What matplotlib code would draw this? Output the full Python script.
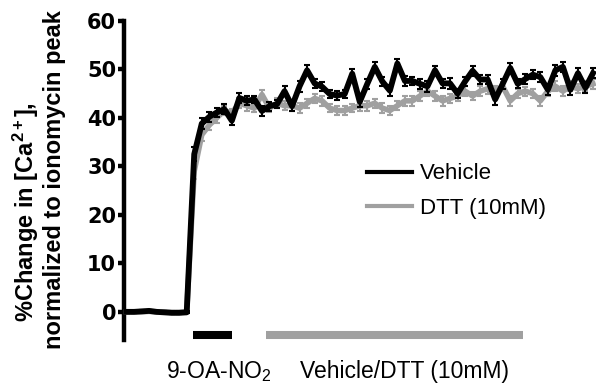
import numpy as np
import matplotlib
matplotlib.use("Agg")
import matplotlib.pyplot as plt
from matplotlib.lines import Line2D

plt.rcParams['font.family'] = ['Liberation Sans', 'DejaVu Sans']
plt.rcParams['mathtext.fontset'] = 'custom'
plt.rcParams['mathtext.rm'] = 'Liberation Sans'
plt.rcParams['mathtext.it'] = 'Liberation Sans:italic'
plt.rcParams['mathtext.bf'] = 'Liberation Sans:bold'

# ---- data ----
vehicle_mean = [0.0, 0.0, 0.1, 0.2, 0.0, -0.1, -0.2, -0.2, -0.1,
                32.5, 38.8, 40.2, 41.1, 41.8, 39.4, 44.1, 43.5, 43.8, 41.4,
                42.4, 42.8, 45.5, 42.4, 46.5, 49.8, 47.1, 46.4, 44.9, 44.6,
                44.9, 49.1, 43.3, 47.0, 50.5, 47.5, 45.6, 51.2, 47.6, 47.6,
                47.0, 46.5, 49.8, 47.1, 47.1, 45.0, 47.5, 49.7, 47.9, 47.9,
                43.8, 47.0, 50.3, 47.0, 48.0, 48.9, 48.4, 45.8, 49.8, 50.5,
                45.8, 49.2, 46.2, 49.2]
vehicle_sem = [0.2, 0.2, 0.2, 0.2, 0.2, 0.2, 0.2, 0.2, 0.2,
               1.5, 1.2, 1.0, 0.9, 1.0, 0.9, 1.0, 0.9, 0.8, 1.0,
               0.9, 0.8, 1.0, 1.0, 1.1, 1.0, 1.0, 0.9, 0.9, 1.0,
               0.9, 1.0, 1.1, 1.0, 1.0, 1.0, 1.1, 1.0, 1.0, 0.9,
               1.0, 1.1, 0.9, 1.0, 1.1, 1.0, 0.9, 1.0, 1.0, 1.0,
               1.1, 1.0, 1.0, 0.9, 1.0, 1.0, 1.1, 1.0, 1.1, 1.0,
               1.1, 1.0, 1.1, 1.0]
dtt_mean = [0.0, 0.0, 0.0, 0.1, 0.0, 0.0, -0.1, -0.1, 0.0,
            29.0, 36.5, 38.5, 40.0, 41.5, 41.0, 43.0, 42.5, 42.0, 44.8,
            42.0, 43.0, 42.5, 42.5, 42.0, 43.0, 44.0, 43.5, 42.0, 41.5,
            41.5, 42.0, 42.5, 42.5, 43.0, 42.0, 41.5, 42.5, 43.5, 43.5,
            44.5, 45.5, 44.5, 43.5, 44.0, 44.5, 45.5, 44.5, 45.5, 46.0,
            45.5, 46.5, 43.5, 45.0, 45.5, 45.0, 43.5, 45.5, 46.5, 45.5,
            46.5, 46.0, 46.5, 47.0]
dtt_sem = [0.2, 0.2, 0.2, 0.2, 0.2, 0.2, 0.2, 0.2, 0.2,
           1.6, 1.3, 1.1, 1.0, 1.0, 0.9, 1.0, 1.0, 0.9, 1.0,
           0.9, 1.0, 0.9, 1.0, 1.0, 0.9, 1.0, 1.0, 0.9, 1.0,
           1.0, 0.9, 1.0, 1.0, 0.9, 1.0, 1.0, 0.9, 1.0, 1.0,
           1.0, 0.9, 1.0, 1.0, 0.9, 1.0, 1.0, 0.9, 1.0, 1.0,
           1.0, 0.9, 1.0, 1.0, 0.9, 1.0, 1.0, 0.9, 1.0, 1.0,
           1.0, 0.9, 1.0, 1.0]
time_points = np.arange(len(vehicle_mean))

drug_period = [8.8, 14.05]         # 9-OA-NO2 application
treat_period = [18.5, 52.75]       # Vehicle/DTT application
period_level = -4.7

series_labels = ["Vehicle", "DTT (10mM)"]
yticks = [0, 10, 20, 30, 40, 50, 60]

BLACK = "#000000"
GRAY = "#a0a0a0"

fig = plt.figure(figsize=(5.96, 3.86), dpi=100)
ax = fig.add_axes([123.5 / 596, 1 - 340 / 386, (596 - 123.5) / 596, (340 - 20.8) / 386])
ax.set_ylim(-5.8, 60)
ax.set_xlim(-0.4, 62.4)

for sp in ("top", "right", "bottom"):
    ax.spines[sp].set_visible(False)
ax.spines["left"].set_linewidth(3.2)
ax.set_xticks([])
ax.set_yticks(yticks)
ax.tick_params(axis="y", length=4.3, width=3.2, pad=1)
for lab in ax.get_yticklabels():
    lab.set_fontfamily("DejaVu Sans")
    lab.set_fontweight("bold")
    lab.set_fontsize(15)

# DTT series (behind)
ax.errorbar(time_points, dtt_mean, yerr=dtt_sem, fmt="none", ecolor=GRAY,
            elinewidth=1.5, capsize=2.5, capthick=1.5, zorder=2, clip_on=False)
ax.plot(time_points, dtt_mean, color=GRAY, lw=4.0, zorder=3, clip_on=False)
# Vehicle series (front)
ax.errorbar(time_points, vehicle_mean, yerr=vehicle_sem, fmt="none", ecolor=BLACK,
            elinewidth=1.5, capsize=2.5, capthick=1.5, zorder=4, clip_on=False)
ax.plot(time_points, vehicle_mean, color=BLACK, lw=4.2, zorder=5, clip_on=False)

# application bars
ax.plot(drug_period, [period_level, period_level], color=BLACK, lw=5.8,
        solid_capstyle="butt", clip_on=False)
ax.plot(treat_period, [period_level, period_level], color=GRAY, lw=5.8,
        solid_capstyle="butt", clip_on=False)

fig.text(219 / 596, 1 - 378 / 386, "9-OA-NO$_2$", ha="center", va="baseline", fontsize=16.5)
fig.text(404 / 596, 1 - 378 / 386, "Vehicle/DTT (10mM)", ha="center", va="baseline", fontsize=16.5)

# y label, two lines
fig.text(26 / 596, 1 - 212 / 386, r"%Change in [Ca$^{\mathbf{2+}}$],", rotation=90,
         ha="center", va="center", fontsize=17, fontweight="bold")
fig.text(55 / 596, 1 - 180 / 386, "normalized to ionomycin peak", rotation=90,
         ha="center", va="center", fontsize=17, fontweight="bold")

handles = [Line2D([], [], color=BLACK, lw=3), Line2D([], [], color=GRAY, lw=3)]
ax.legend(handles, series_labels, loc="center left",
          bbox_to_anchor=(367 / 596, 1 - 191 / 386), bbox_transform=fig.transFigure,
          frameon=False, borderpad=0, borderaxespad=0, handlelength=2.03,
          handletextpad=0.36, labelspacing=0.6, prop={"family": "Liberation Sans", "size": 16})

fig.savefig("out.png", dpi=100)
